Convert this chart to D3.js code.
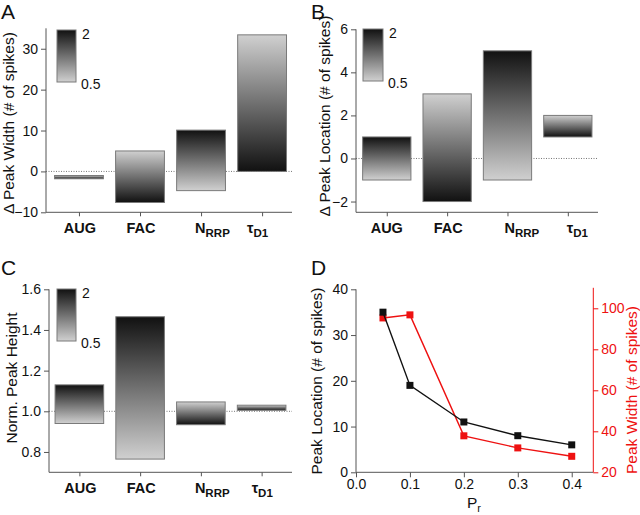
<!DOCTYPE html>
<html>
<head>
<meta charset="utf-8">
<script src="https://cdn.jsdelivr.net/npm/d3@7"></script>
<style>
  body { margin: 0; background: #fff; }
  svg { display: block; font-family: "Liberation Sans", Arial, sans-serif; }
</style>
</head>
<body>
<svg id="chart" width="640" height="515"></svg>
<script>
// categories (main text + subscript)
const catMain = ["AUG", "FAC", "N", "τ"];
const catSub = ["", "", "RRP", "D1"];

// each bar spans from the value at 0.5x to the value at 2x of the parameter
const widthAt05 = [-1.0, 5.0, -4.7, 33.4];
const widthAt2 = [-1.8, -7.6, 10.1, 0.0];
const locAt05 = [-1, 3, -1, 2];
const locAt2 = [1, -2, 5, 1];
const heightAt05 = [0.94, 0.765, 1.046, 1.03];
const heightAt2 = [1.13, 1.465, 0.934, 1.005];

// panel D
const prValues = [0.05, 0.1, 0.2, 0.3, 0.4];
const peakLocation = [35, 19, 11, 8, 6];
const peakWidth = [95.3, 96.8, 37.8, 31.9, 27.8];

const widthTicks = [-10, 0, 10, 20, 30];
const locTicks = [-2, 0, 2, 4, 6];
const heightTicks = [0.8, 1.0, 1.2, 1.4, 1.6];
const prTicks = [0.0, 0.1, 0.2, 0.3, 0.4];
const locDTicks = [0, 10, 20, 30, 40];
const widthDTicks = [20, 40, 60, 80, 100];

const svg = d3.select("#chart");
const AXIS = "#555";
const DARK = "#111111";
const LIGHT = "#d0d0d0";

const defs = svg.append("defs");
function grad(id, top, bottom) {
  const g = defs.append("linearGradient").attr("id", id)
    .attr("x1", 0).attr("y1", 0).attr("x2", 0).attr("y2", 1);
  g.append("stop").attr("offset", "0%").attr("stop-color", top);
  g.append("stop").attr("offset", "100%").attr("stop-color", bottom);
}
grad("darkTop", DARK, LIGHT);
grad("lightTop", LIGHT, DARK);

function panelLetter(txt, x, y) {
  svg.append("text").attr("x", x).attr("y", y)
    .attr("font-size", 21).attr("fill", "#111").text(txt);
}

function leftAxis(g, y, x0, ticks, minorStep, fmt, color) {
  const [d0, d1] = y.domain();
  const minor = d3.range(Math.ceil(d0 / minorStep) * minorStep, d1 + 1e-9, minorStep);
  const ax = g.append("g").attr("transform", `translate(${x0},0)`);
  ax.call(d3.axisLeft(y).tickValues(minor).tickSize(3).tickFormat(""));
  ax.call(d3.axisLeft(y).tickValues(ticks).tickSize(5).tickPadding(3).tickFormat(fmt));
  ax.selectAll("path, line").attr("stroke", color);
  ax.selectAll("text").attr("font-size", 14).attr("fill", color === AXIS ? "#111" : color)
    .attr("font-family", null);
  ax.select(".domain").attr("d", `M0,${y.range()[0]}V${y.range()[1]}`);
  return ax;
}

function yTitle(txt, x, y, color) {
  svg.append("text").attr("transform", `translate(${x},${y}) rotate(-90)`)
    .attr("text-anchor", "middle").attr("font-size", 15.5).attr("fill", color || "#111")
    .text(txt);
}

function barPanel(o) {
  const g = svg.append("g");
  const x = d3.scaleLinear().domain(o.xDomain).range(o.xRange);
  const y = d3.scaleLinear().domain(o.yDomain).range(o.yRange);
  const bw = x(1.8) - x(1);

  // zero / baseline dotted line
  g.append("line")
    .attr("x1", o.xRange[0]).attr("x2", o.xRange[1])
    .attr("y1", y(o.base)).attr("y2", y(o.base))
    .attr("stroke", "#777").attr("stroke-width", 1).attr("stroke-dasharray", "1,1.5");

  const rows = o.at05.map((v, i) => ({ i: i + 1, v05: v, v2: o.at2[i] }));
  g.selectAll("rect.bar").data(rows).join("rect").attr("class", "bar")
    .attr("x", d => x(d.i) - bw / 2)
    .attr("width", bw)
    .attr("y", d => y(Math.max(d.v05, d.v2)))
    .attr("height", d => Math.max(2, Math.abs(y(d.v05) - y(d.v2))))
    .attr("fill", d => d.v2 > d.v05 ? "url(#darkTop)" : "url(#lightTop)")
    .attr("stroke", "#7a7a7a").attr("stroke-width", 1);

  // bottom axis
  const bx = g.append("g").attr("transform", `translate(0,${o.yRange[0]})`);
  bx.call(d3.axisBottom(x).tickValues([1, 2, 3, 4]).tickSize(4).tickFormat(""));
  bx.selectAll("path, line").attr("stroke", AXIS);
  bx.select(".domain").attr("d", `M${o.xRange[0]},0H${o.xRange[1]}`);

  const lab = g.selectAll("text.cat").data(catMain).join("text").attr("class", "cat")
    .attr("x", (d, i) => x(i + 1) + o.labelShift[i])
    .attr("y", o.yRange[0] + 21)
    .attr("text-anchor", (d, i) => catSub[i] ? "start" : "middle")
    .attr("font-size", 14.5).attr("font-weight", "bold").attr("fill", "#111");
  lab.append("tspan").text(d => d);
  lab.append("tspan").attr("dy", 4).attr("font-size", 11.5)
    .text((d, i) => catSub[i]);

  leftAxis(g, y, o.xRange[0], o.ticks, o.minor, o.fmt, AXIS);

  // legend gradient box
  const lg = o.legend;
  g.append("rect").attr("x", lg[0]).attr("y", lg[1]).attr("width", lg[2]).attr("height", lg[3])
    .attr("fill", "url(#darkTop)").attr("stroke", "#7a7a7a");
  g.append("text").attr("x", lg[0] + lg[2] + 6).attr("y", lg[1] + 9)
    .attr("font-size", 14).attr("fill", "#111").text("2");
  g.append("text").attr("x", lg[0] + lg[2] + 5).attr("y", lg[1] + lg[3] + 7)
    .attr("font-size", 14).attr("fill", "#111").text("0.5");
}

// Panel A
barPanel({
  xDomain: [0.46, 4.49], xRange: [46, 292],
  yDomain: [-10, 35], yRange: [212.3, 28.3],
  base: 0, at05: widthAt05, at2: widthAt2,
  ticks: widthTicks, minor: 5, fmt: d3.format("d"),
  legend: [57, 30, 19, 52], labelShift: [1, 1, -6, -15]
});
yTitle("Δ Peak Width (# of spikes)", 14, 123);
panelLetter("A", 1, 19);

// Panel B
barPanel({
  xDomain: [0.49, 4.5], xRange: [356, 598],
  yDomain: [-2.5, 6], yRange: [212.3, 29.3],
  base: 0, at05: locAt05, at2: locAt2,
  ticks: locTicks, minor: 1, fmt: d3.format("d"),
  legend: [363, 29, 20, 52], labelShift: [0, 1, -3, -1]
});
yTitle("Δ Peak Location (# of spikes)", 330, 116);
panelLetter("B", 311, 19);

// Panel C
barPanel({
  xDomain: [0.5, 4.5], xRange: [49, 292],
  yDomain: [0.7, 1.6], yRange: [472.3, 289.3],
  base: 1.0, at05: heightAt05, at2: heightAt2,
  ticks: heightTicks, minor: 0.1, fmt: d3.format(".1f"),
  legend: [57, 289, 19, 52], labelShift: [1, 1, -6, -10]
});
yTitle("Norm. Peak Height", 17, 378);
panelLetter("C", 1, 275);

// Panel D
(function () {
  const g = svg.append("g");
  const x = d3.scaleLinear().domain([0, 0.44]).range([356, 593.3]);
  const yL = d3.scaleLinear().domain([0, 40]).range([472.3, 289.3]);
  const yR = d3.scaleLinear().domain([20, 110]).range([472.3, 287.8]);

  const bx = g.append("g").attr("transform", "translate(0,472.3)");
  bx.call(d3.axisBottom(x).tickValues(d3.range(0.05, 0.44, 0.1)).tickSize(3).tickFormat(""));
  bx.call(d3.axisBottom(x).tickValues(prTicks).tickSize(5).tickPadding(2).tickFormat(d3.format(".1f")));
  bx.selectAll("path, line").attr("stroke", AXIS);
  bx.selectAll("text").attr("font-size", 14).attr("fill", "#111").attr("font-family", null);
  bx.select(".domain").attr("d", "M356,0H593.3");

  leftAxis(g, yL, 356, locDTicks, 5, d3.format("d"), AXIS);

  const RED = "#ee1111";
  const r1 = yR.domain()[1];
  const ra = g.append("g").attr("transform", "translate(593.3,0)");
  ra.call(d3.axisRight(yR).tickValues(d3.range(30, r1, 20)).tickSize(3).tickFormat(""));
  ra.call(d3.axisRight(yR).tickValues(widthDTicks).tickSize(5).tickPadding(3).tickFormat(d3.format("d")));
  ra.selectAll("path, line").attr("stroke", RED);
  ra.selectAll("text").attr("font-size", 14).attr("fill", RED).attr("font-family", null);
  ra.select(".domain").attr("d", `M0,${yR.range()[0]}V${yR.range()[1]}`);

  const black = prValues.map((p, i) => [p, peakLocation[i]]);
  const red = prValues.map((p, i) => [p, peakWidth[i]]);

  g.append("path").datum(red)
    .attr("d", d3.line().x(d => x(d[0])).y(d => yR(d[1])))
    .attr("fill", "none").attr("stroke", RED).attr("stroke-width", 1.4);
  g.selectAll("rect.r").data(red).join("rect").attr("class", "r")
    .attr("x", d => x(d[0]) - 3.5).attr("y", d => yR(d[1]) - 3.5)
    .attr("width", 7).attr("height", 7).attr("fill", RED);

  g.append("path").datum(black)
    .attr("d", d3.line().x(d => x(d[0])).y(d => yL(d[1])))
    .attr("fill", "none").attr("stroke", "#111").attr("stroke-width", 1.4);
  g.selectAll("rect.b").data(black).join("rect").attr("class", "b")
    .attr("x", d => x(d[0]) - 3.5).attr("y", d => yL(d[1]) - 3.5)
    .attr("width", 7).attr("height", 7).attr("fill", "#111");

  const xl = g.append("text").attr("x", 467).attr("y", 508)
    .attr("font-size", 15.5).attr("fill", "#111");
  xl.append("tspan").text("P");
  xl.append("tspan").attr("dy", 4).attr("font-size", 11).text("r");

  yTitle("Peak Location (# of spikes)", 322, 381);
  yTitle("Peak Width (# of spikes)", 637, 390, RED);
  panelLetter("D", 311, 275);
})();
</script>
</body>
</html>
